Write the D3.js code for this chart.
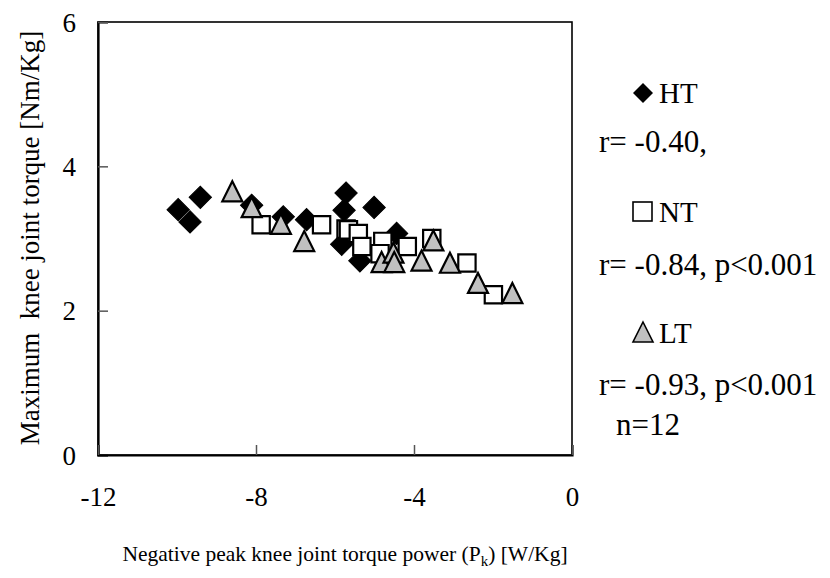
<!DOCTYPE html>
<html>
<head>
<meta charset="utf-8">
<script src="https://cdn.jsdelivr.net/npm/d3@7"></script>
<style>
  html, body { margin: 0; padding: 0; background: #fff; }
  svg text { font-family: "Liberation Serif", "Times New Roman", serif; fill: #000; }
</style>
</head>
<body>
<svg id="chart" width="830" height="578"></svg>
<script>
// ---- data ----
const xTicks = [-12, -8, -4, 0];
const yTicks = [0, 2, 4, 6];

const htX = [-9.97, -9.67, -9.41, -8.11, -7.31, -6.72, -5.72, -5.77, -5.01, -5.83, -5.37, -4.44];
const htY = [3.40, 3.23, 3.57, 3.46, 3.30, 3.26, 3.63, 3.39, 3.43, 2.92, 2.69, 3.07];

const ntX = [-7.87, -6.34, -5.72, -5.66, -5.41, -5.32, -4.79, -4.86, -4.17, -3.55, -2.66, -1.99];
const ntY = [3.19, 3.19, 3.13, 3.12, 3.07, 2.89, 2.96, 2.79, 2.89, 3.00, 2.66, 2.22];

const ltX = [-8.60, -8.11, -7.37, -6.78, -4.82, -4.52, -4.50, -3.81, -3.51, -3.09, -2.38, -1.51];
const ltY = [3.64, 3.42, 3.19, 2.95, 2.66, 2.79, 2.66, 2.68, 2.96, 2.65, 2.37, 2.23];

const legendNames = ["HT", "NT", "LT"];
const legendStats = ["r= -0.40,", "r= -0.84, p<0.001", "r= -0.93, p<0.001"];
const nLabel = "n=12";

// ---- layout ----
const svg = d3.select("#chart");
const L = 98, R = 572, T = 22, B = 455;
const x = d3.scaleLinear().domain([-12, 0]).range([L, R]);
const y = d3.scaleLinear().domain([0, 6]).range([B, T]);

// frame
svg.append("rect").attr("x", L).attr("y", T).attr("width", R - L).attr("height", B - T)
  .attr("fill", "none").attr("stroke", "#000").attr("stroke-width", 1.6);

// axes (inward ticks)
const yAxis = d3.axisLeft(y).tickValues(yTicks).tickSize(-10).tickPadding(22);
const gy = svg.append("g").attr("transform", `translate(${L},0)`).call(yAxis);
gy.select(".domain").attr("stroke-width", 2.2);
gy.selectAll(".tick line").attr("stroke", "#555").attr("stroke-width", 1.5);
gy.selectAll(".tick text").attr("font-size", 27).attr("font-family", "Liberation Serif").attr("dy", "0.34em")
  .text(d => d);

const xAxis = d3.axisBottom(x).tickValues(xTicks).tickSize(-10).tickPadding(32);
const gx = svg.append("g").attr("transform", `translate(0,${B})`).call(xAxis);
gx.select(".domain").attr("stroke-width", 2.2);
gx.selectAll(".tick line").attr("stroke", "#555").attr("stroke-width", 1.5);
gx.selectAll(".tick text").attr("font-size", 27).attr("font-family", "Liberation Serif")
  .text(d => d < 0 ? "-" + Math.abs(d) : d);

// axis titles
const xt = svg.append("text").attr("x", 345).attr("y", 561).attr("text-anchor", "middle").attr("font-size", 21.5);
xt.append("tspan").text("Negative peak knee joint torque power (P");
xt.append("tspan").attr("font-size", 15).attr("dy", 5).text("k");
xt.append("tspan").attr("dy", -5).text(") [W/Kg]");

svg.append("text").attr("transform", "translate(39,238) rotate(-90)").attr("text-anchor", "middle")
  .attr("font-size", 27).attr("xml:space", "preserve").style("white-space", "pre")
  .text("Maximum  knee joint torque [Nm/Kg]");

// markers
const diamond = d3.symbol().type(d3.symbolSquare).size(250);
const square = d3.symbol().type(d3.symbolSquare).size(300);
const tri = (cx, cy, s) => `M${cx},${cy - s * 0.55}L${cx + s / 2},${cy + s * 0.45}L${cx - s / 2},${cy + s * 0.45}Z`;

const plot = svg.append("g");
const ht = d3.range(htX.length).map(i => ({x: htX[i], y: htY[i]}));
const nt = d3.range(ntX.length).map(i => ({x: ntX[i], y: ntY[i]}));
const lt = d3.range(ltX.length).map(i => ({x: ltX[i], y: ltY[i]}));

plot.selectAll(".ht").data(ht).join("path").attr("class", "ht")
  .attr("d", diamond)
  .attr("transform", d => `translate(${x(d.x)},${y(d.y)}) rotate(45)`)
  .attr("fill", "#000").attr("stroke", "#000").attr("stroke-width", 1);

plot.selectAll(".nt").data(nt).join("path").attr("class", "nt")
  .attr("d", square)
  .attr("transform", d => `translate(${x(d.x)},${y(d.y)})`)
  .attr("fill", "#fff").attr("stroke", "#000").attr("stroke-width", 2.2);

plot.selectAll(".lt").data(lt).join("path").attr("class", "lt")
  .attr("d", d => tri(x(d.x), y(d.y), 20))
  .attr("fill", "#c0c0c0").attr("stroke", "#000").attr("stroke-width", 2.2);

// legend
const lg = svg.append("g");
const rowY = [93, 212, 333];
const statY = [152, 275, 395];
lg.append("path").attr("d", d3.symbol().type(d3.symbolSquare).size(200))
  .attr("transform", `translate(643,${rowY[0]}) rotate(45)`).attr("fill", "#000");
lg.append("rect").attr("x", 633).attr("y", rowY[1] - 10).attr("width", 19).attr("height", 19)
  .attr("fill", "#fff").attr("stroke", "#000").attr("stroke-width", 1.6);
lg.append("path").attr("d", tri(643, rowY[2], 20)).attr("fill", "#c0c0c0").attr("stroke", "#000").attr("stroke-width", 1.6);

legendNames.forEach((n, i) => {
  lg.append("text").attr("x", 659).attr("y", rowY[i] + 10).attr("font-size", 29).text(n);
  lg.append("text").attr("x", 599).attr("y", statY[i]).attr("font-size", 31).text(legendStats[i]);
});
lg.append("text").attr("x", 616).attr("y", 435).attr("font-size", 31).text(nLabel);
</script>
</body>
</html>
